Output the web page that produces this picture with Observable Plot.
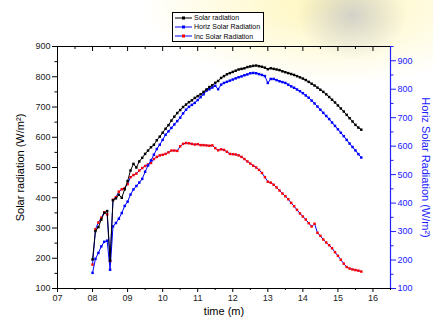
<!DOCTYPE html>
<html>
<head>
<meta charset="utf-8">
<script src="https://cdn.jsdelivr.net/npm/d3@7"></script>
<script src="https://cdn.jsdelivr.net/npm/@observablehq/plot@0.6"></script>
<style>
  html, body { margin: 0; padding: 0; background: white; }
  #wrap { position: relative; width: 433px; height: 327px; overflow: hidden;
    font-family: "Liberation Sans", Arial, sans-serif; }
  #bg { position: absolute; left: 0; top: 0; width: 433px; height: 327px;
    background:
      radial-gradient(ellipse 55px 45px at 352px 15px, rgba(200,200,200,0.8), rgba(210,210,200,0) 100%),
      radial-gradient(ellipse 190px 80px at 330px 5px, rgba(255,244,170,0.8), rgba(255,250,210,0) 100%); }
  #chart { position: absolute; left: 0; top: 0; }
  #legend { position: absolute; left: 172px; top: 12px; width: 90px; height: 28px;
    border: 1px solid #000; background: white; font-size: 7px; line-height: 9.3px; color: #000; }
  #legend div { display: flex; align-items: center; height: 9.3px; }
  #legend svg { margin-left: 2px; margin-right: 2px; }
</style>
</head>
<body>
<div id="wrap">
  <div id="bg"></div>
  <div id="chart"></div>
  <div id="legend"></div>
</div>
<script>
// time of day (hours), 5-minute steps
const times = [8.000,8.083,8.167,8.250,8.333,8.417,8.500,8.583,8.667,8.750,8.833,8.917,
  9.000,9.083,9.167,9.250,9.333,9.417,9.500,9.583,9.667,9.750,9.833,9.917,
  10.000,10.083,10.167,10.250,10.333,10.417,10.500,10.583,10.667,10.750,10.833,10.917,
  11.000,11.083,11.167,11.250,11.333,11.417,11.500,11.583,11.667,11.750,11.833,11.917,
  12.000,12.083,12.167,12.250,12.333,12.417,12.500,12.583,12.667,12.750,12.833,12.917,
  13.000,13.083,13.167,13.250,13.333,13.417,13.500,13.583,13.667,13.750,13.833,13.917,
  14.000,14.083,14.167,14.250,14.333,14.417,14.500,14.583,14.667,14.750,14.833,14.917,
  15.000,15.083,15.167,15.250,15.333,15.417,15.500,15.583,15.667];

// Solar radiation (left axis, W/m2)
const solarRadiation = [196,290,303,328,350,356,192,392,398,410,400,428,
  455,490,512,500,520,532,545,556,567,575,590,602,
  615,628,640,655,668,680,690,700,708,716,722,730,
  736,742,750,758,766,772,780,786,796,802,808,812,
  816,820,824,826,828,832,834,836,837,835,833,830,
  825,828,826,824,822,818,815,812,809,806,802,798,
  794,789,783,777,771,764,757,750,742,733,724,715,
  705,695,685,674,663,652,641,632,625];

// Horiz Solar Radiation (right axis, W/m2)
const horizRadiation = [155,204,225,248,264,268,166,318,330,345,365,390,
  405,430,448,460,472,485,510,532,550,570,590,605,
  622,640,652,664,676,688,700,715,728,738,745,752,
  762,772,782,795,800,806,812,800,816,822,826,830,
  834,838,842,845,849,852,856,857,856,853,850,846,
  822,836,836,832,828,825,822,816,810,805,799,793,
  786,778,770,760,750,739,728,717,706,695,683,671,
  659,647,635,622,609,597,585,572,560];

// Inc Solar Radiation (left axis, W/m2)
const incRadiation = [179,296,318,334,352,345,190,393,402,420,428,432,
  445,468,475,480,490,498,505,510,515,528,535,540,
  542,545,550,556,556,555,570,578,581,580,578,576,
  577,574,574,573,572,573,564,557,560,558,552,545,
  544,543,540,535,528,520,513,506,500,492,482,468,
  453,450,443,434,424,414,405,395,383,372,360,348,
  338,328,316,305,314,284,274,262,252,243,233,220,
  208,195,182,171,166,163,161,159,156];

const xTicks = [7,8,9,10,11,12,13,14,15,16];
const xTickLabels = ["07","08","09","10","11","12","13","14","15","16"];
const xMinor = [7.5,8.5,9.5,10.5,11.5,12.5,13.5,14.5,15.5,16.5];
const leftTicks = [100,200,300,400,500,600,700,800,900];
const leftMinor = [150,250,350,450,550,650,750,850];
const rightTicks = [100,200,300,400,500,600,700,800,900];
const rightMinor = [150,250,350,450,550,650,750,850,950];

const seriesNames = ["Solar radiation","Horiz Solar Radiation","Inc Solar Radiation"];
const lineColors = ["#000000","#0000ff","#0000ff"];
const markColors = ["#000000","#0000ff","#ff0000"];

const xDomain = [7, 16.5];
const leftDomain = [100, 900];
const rightDomain = [100, 950];
// map right-axis values onto the left scale
const toLeft = v => leftDomain[0] + (v - rightDomain[0]) * (leftDomain[1]-leftDomain[0]) / (rightDomain[1]-rightDomain[0]);

const solarData = times.map((t,i) => ({t, v: solarRadiation[i]}));
const horizData = times.map((t,i) => ({t, v: toLeft(horizRadiation[i])}));
const incData = times.map((t,i) => ({t, v: incRadiation[i]}));

const font = "'Liberation Sans', Arial, sans-serif";

const chart = Plot.plot({
  width: 433, height: 327,
  marginLeft: 57, marginRight: 43, marginTop: 46, marginBottom: 39,
  style: {background: "transparent", fontFamily: font, overflow: "visible"},
  x: {domain: xDomain, axis: null},
  y: {domain: leftDomain, axis: null},
  marks: [
    // frame
    Plot.ruleY([leftDomain[0]], {stroke: "#000", strokeWidth: 1}),
    Plot.ruleY([leftDomain[1]], {stroke: "#000", strokeWidth: 1}),
    Plot.ruleX([xDomain[0]], {stroke: "#000", strokeWidth: 1}),
    // x axis
    Plot.axisX(xTicks, {anchor: "bottom", tickSize: 4, tickPadding: 2, fontSize: 9, fill: "#222",
      tickFormat: (d, i) => xTickLabels[i], label: null}),
    Plot.axisX(xMinor, {anchor: "bottom", tickSize: 2, tickFormat: () => "", label: null}),
    // mirrored ticks on top, pointing inward
    Plot.axisX(xTicks, {anchor: "top", tickSize: 4, insetTop: 4, tickFormat: () => "", label: null}),
    Plot.axisX(xMinor, {anchor: "top", tickSize: 2, insetTop: 2, tickFormat: () => "", label: null}),
    // left axis
    Plot.axisY(leftTicks, {anchor: "left", tickSize: 5, tickPadding: 2, fontSize: 9, fill: "#222", label: null}),
    Plot.axisY(leftMinor, {anchor: "left", tickSize: 2.5, tickFormat: () => "", label: null}),
    // right axis (blue)
    Plot.ruleX([xDomain[1]], {stroke: "#2020ff", strokeWidth: 1.2}),
    Plot.axisY(rightTicks.map(toLeft), {anchor: "right", tickSize: 5, tickPadding: 2, fontSize: 9,
      stroke: "#2020ff", fill: "#2020ff", tickFormat: (d, i) => String(rightTicks[i]), label: null}),
    Plot.axisY(rightMinor.map(toLeft), {anchor: "right", tickSize: 2.5, stroke: "#2020ff",
      tickFormat: () => "", label: null}),
    // axis titles
    Plot.text(["Solar radiation (W/m²)"], {frameAnchor: "left", textAnchor: "middle", dx: -37, rotate: -90, fontSize: 11, fill: "#000"}),
    Plot.text(["Horiz Solar Radiation (W/m²)"], {frameAnchor: "right", textAnchor: "middle", dx: 35, rotate: 90, fontSize: 11, fill: "#2020ff"}),
    Plot.text(["time (m)"], {frameAnchor: "bottom", textAnchor: "middle", dy: 26, fontSize: 11, fill: "#000"}),
    // series
    Plot.line(incData, {x: "t", y: "v", stroke: lineColors[2], strokeWidth: 1}),
    Plot.dot(incData, {x: "t", y: "v", symbol: "square", r: 1.4, fill: markColors[2], stroke: "none"}),
    Plot.line(horizData, {x: "t", y: "v", stroke: lineColors[1], strokeWidth: 1}),
    Plot.dot(horizData, {x: "t", y: "v", symbol: "square", r: 1.4, fill: markColors[1], stroke: "none"}),
    Plot.line(solarData, {x: "t", y: "v", stroke: lineColors[0], strokeWidth: 1}),
    Plot.dot(solarData, {x: "t", y: "v", symbol: "square", r: 1.4, fill: markColors[0], stroke: "none"})
  ]
});
document.getElementById("chart").appendChild(chart);

// legend
const legend = document.getElementById("legend");
seriesNames.forEach((name, i) => {
  const row = document.createElement("div");
  row.innerHTML = `<svg width="17" height="6"><line x1="0" y1="3" x2="17" y2="3" stroke="${lineColors[i]}" stroke-width="1"/>` +
    `<rect x="7" y="1.5" width="3" height="3" fill="${markColors[i]}"/></svg><span>${name}</span>`;
  legend.appendChild(row);
});
</script>
</body>
</html>
